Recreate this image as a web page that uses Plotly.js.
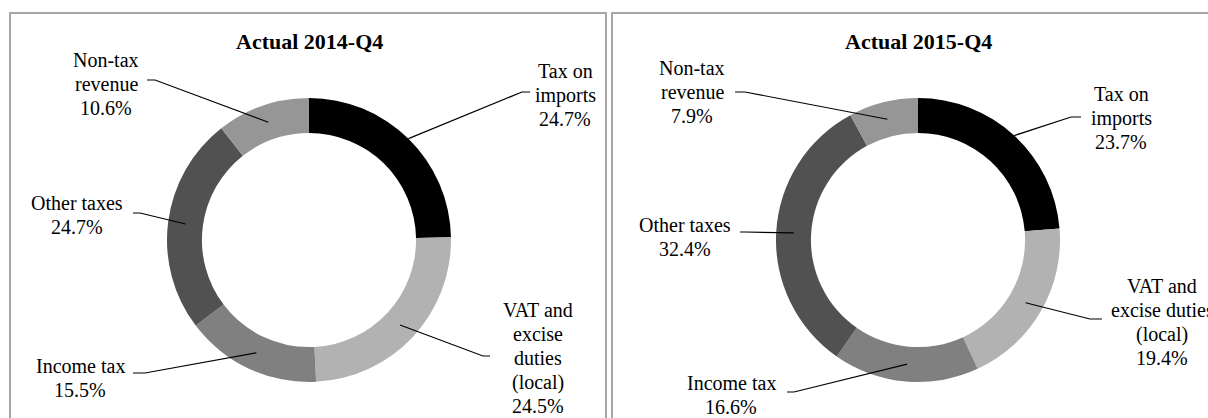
<!DOCTYPE html>
<html><head><meta charset="utf-8">
<script src="https://cdn.plot.ly/plotly-3.0.1.min.js"></script>
<style>html,body{margin:0;padding:0;background:#fff}#chart{width:1208px;height:418px}</style>
</head><body><div id="chart"></div>
<script>
// ---- data ----
const categories = ["Tax on imports", "VAT and excise duties (local)", "Income tax", "Other taxes", "Non-tax revenue"];
const labels2014 = ["Tax on<br>imports", "VAT and<br>excise<br>duties<br>(local)", "Income tax", "Other taxes", "Non-tax<br>revenue"];
const labels2015 = ["Tax on<br>imports", "VAT and<br>excise duties<br>(local)", "Income tax", "Other taxes", "Non-tax<br>revenue"];
const values2014 = [24.7, 24.5, 15.5, 24.7, 10.6];
const values2015 = [23.7, 19.4, 16.6, 32.4, 7.9];
const titles = ["Actual 2014-Q4", "Actual 2015-Q4"];

// ---- style ----
const colors = ["#000000", "#b2b2b2", "#808080", "#515151", "#969696"];
const W = 1208, H = 418;
const FONT = "'Liberation Serif', 'Times New Roman', Times, serif";
const LINE = 24;
const px = x => x / W;
const py = y => 1 - y / H;

const charts = [
  { values: values2014, labels: labels2014, title: titles[0], cx: 309, cy: 240, r: 142, hole: 0.754,
    border: [10, 606],
    lab:   [[565, 95], [538, 358], [80, 378], [77, 215], [106, 84]],
    elbow: [[522, 92], [483, 356], [145, 373], [140, 213], [155, 80]],
    stub:  [530, 490, 133, 133, 147],
    tipR:  [1.0, 0.877, 0.877, 0.877, 0.877] },
  { values: values2015, labels: labels2015, title: titles[1], cx: 918, cy: 240, r: 142, hole: 0.754,
    border: [612, 1240],
    lab:   [[1121, 118], [1162, 322], [731, 395], [685, 237], [692, 92]],
    elbow: [[1071, 117], [1090, 319], [794, 392], [745, 232], [745, 92]],
    stub:  [1081, 1102, 787, 740, 735],
    tipR:  [1.0, 0.877, 0.877, 0.877, 0.877] }
];

const traces = [], annotations = [], shapes = [];
charts.forEach(c => {
  traces.push({
    type: "pie", values: c.values, labels: categories, sort: false, direction: "clockwise",
    rotation: 0, hole: c.hole, textinfo: "none", hoverinfo: "label+percent",
    marker: { colors: colors, line: { color: "#ffffff", width: 0 } },
    domain: { x: [px(c.cx - c.r), px(c.cx + c.r)], y: [py(c.cy + c.r), py(c.cy - c.r)] },
    showlegend: false
  });
  shapes.push({ type: "rect", xref: "paper", yref: "paper", x0: px(c.border[0]), x1: px(c.border[1]),
    y0: py(440), y1: py(13), line: { color: "#a6a6a6", width: 2 } });
  annotations.push({ xref: "paper", yref: "paper", x: px(c.cx), y: py(41), text: "<b>" + c.title + "</b>",
    showarrow: false, xanchor: "center", yanchor: "middle", font: { family: FONT, size: 22, color: "#000" } });
  const total = c.values.reduce((a, b) => a + b, 0);
  let cum = 0;
  c.values.forEach((v, i) => {
    const th = 2 * Math.PI * (cum + v / 2) / total;
    cum += v;
    const rr = c.r * c.tipR[i];
    const tx = c.cx + rr * Math.sin(th), ty = c.cy - rr * Math.cos(th);
    const e = c.elbow[i];
    shapes.push({ type: "path", xref: "paper", yref: "paper",
      path: `M ${px(tx)} ${py(ty)} L ${px(e[0])} ${py(e[1])} L ${px(c.stub[i])} ${py(e[1])}`,
      line: { color: "#000", width: 1.2 } });
    const pct = (100 * v / total).toFixed(1) + "%";
    const lines = c.labels[i].split("<br>").concat([pct]);
    const n = lines.length;
    lines.forEach((t, k) => {
      annotations.push({ xref: "paper", yref: "paper", x: px(c.lab[i][0]),
        y: py(c.lab[i][1] + (k - (n - 1) / 2) * LINE),
        text: t, showarrow: false, xanchor: "center", yanchor: "middle",
        font: { family: FONT, size: 20, color: "#000" } });
    });
  });
});

const layout = {
  width: W, height: H, margin: { l: 0, r: 0, t: 0, b: 0 },
  font: { family: FONT },
  paper_bgcolor: "#ffffff", plot_bgcolor: "#ffffff",
  annotations: annotations, shapes: shapes, showlegend: false
};
Plotly.newPlot("chart", traces, layout, { displayModeBar: false, staticPlot: true });
</script>
</body></html>
